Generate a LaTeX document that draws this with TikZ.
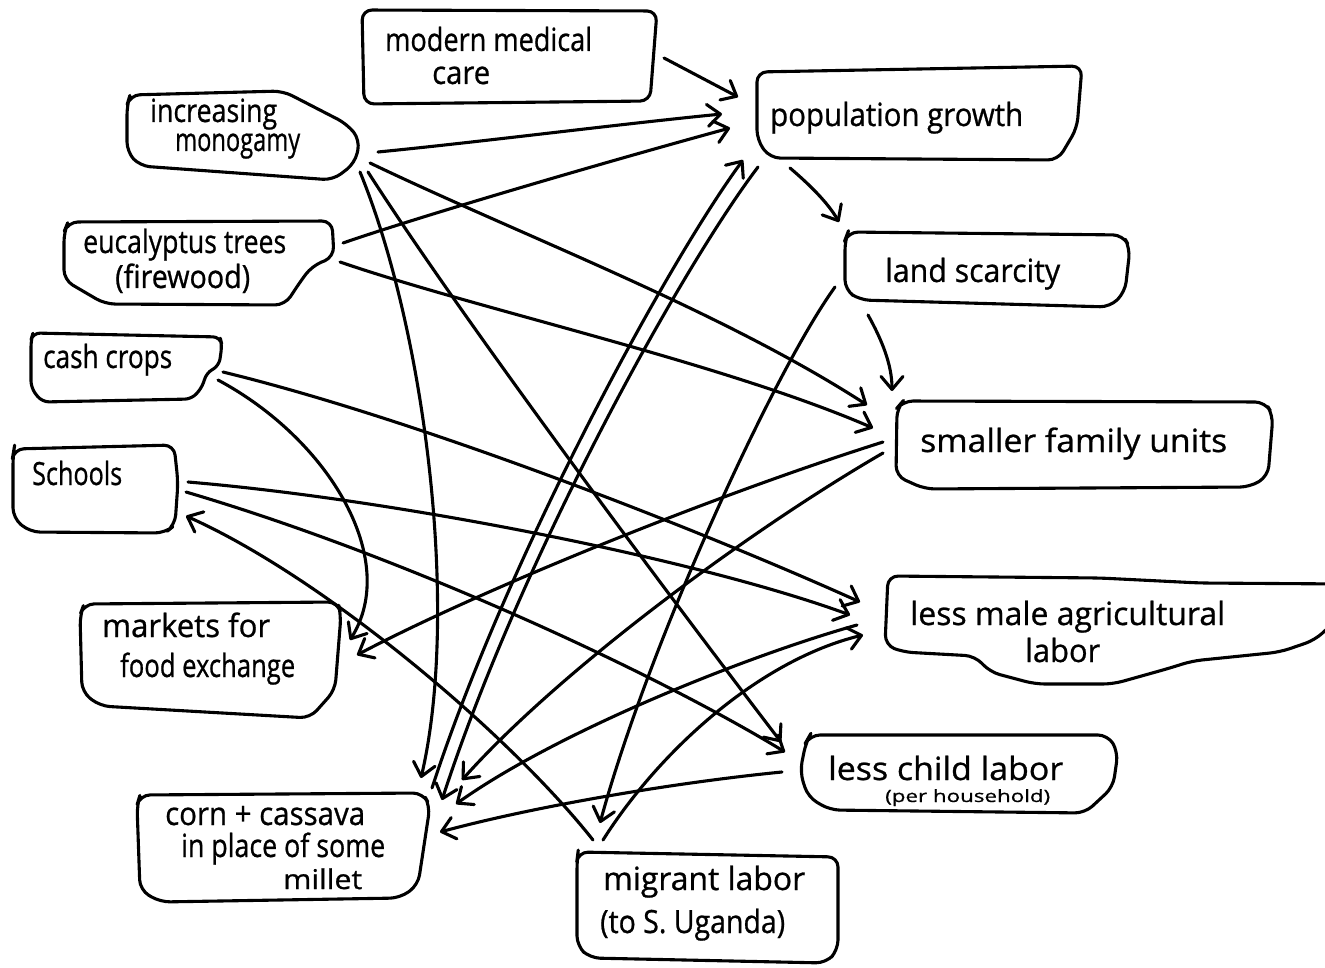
\documentclass[tikz,border=0pt]{standalone}
\usepackage{fontspec}
\setmainfont{Open Sans}
\newfontfamily\handfont{Open Sans}[FakeBold=0.8]
\usepackage{graphicx}
\usetikzlibrary{arrows.meta}
% stretch or squeeze one line of text to a given width, keeping its height
\newcommand\fitto[2]{\resizebox{#1pt}{\height}{#2}}
\begin{document}
\begin{tikzpicture}[x=1pt,y=-1pt,
  ink/.style={line width=3.1pt, line cap=round, line join=round},
  boxline/.style={ink, rounded corners=10pt},
  lbl/.style={inner sep=0pt, anchor=base west, font=\handfont\fontsize{32}{38}\selectfont},
  small/.style={lbl, font=\handfont\fontsize{17}{20}\selectfont},
  link/.style={ink, -{Straight Barb[round,length=13pt,width=22pt]}}
]
\useasboundingbox (0,0) rectangle (1325,968);
\fill[white] (0,0) rectangle (1325,968);
\clip (0,0) rectangle (1325,968);

% ---------- box outlines ----------
\draw[boxline] (362,10) -- (657,11) -- (650,101) -- (364,104) -- cycle;
\draw[boxline] (757,72) -- (1082,66) -- (1077,128) -- (1058,160) -- (770,158) -- (757,140) -- cycle;
\draw[boxline] (130,95) -- (283,91) -- (347,124) -- (360,140) -- (355,163) -- (333,180) -- (140,166) -- (127,152) -- (127,105) -- cycle;
\draw[boxline] (68,222) -- (332,221) -- (334,257) -- (312,266) -- (300,282) -- (285,305) -- (105,304) -- (64,280) -- (64,232) -- cycle;
\draw[boxline, rounded corners=7pt] (33,333) -- (220,337) -- (222,345) -- (219,366) -- (206,373) -- (203,386) -- (192,399) -- (42,402) -- (31,388) -- (31,340) -- cycle;
\draw[boxline] (14,449) -- (174,445) -- (178,482) -- (175,525) -- (165,533) -- (30,532) -- (13,518) -- (13,455) -- cycle;
\draw[boxline] (84,604) -- (338,602) -- (341,615) -- (335,690) -- (310,718) -- (100,706) -- (82,692) -- (80,615) -- cycle;
\draw[boxline] (140,795) -- (423,793) -- (430,806) -- (418,885) -- (400,898) -- (160,902) -- (140,890) -- (137,805) -- cycle;
\draw[boxline] (578,852) -- (838,857) -- (838,950) -- (826,963) -- (590,958) -- (577,946) -- (577,860) -- cycle;
\draw[boxline] (810,735) -- (1108,735) -- (1118,752) -- (1113,787) -- (1085,813) -- (830,810) -- (808,797) -- (800,772) -- (806,742) -- cycle;
\draw[boxline] (1345,584) -- (1200,583) -- (1100,578) -- (888,576) -- (885,645) -- (903,652) -- (975,656) -- (990,672) -- (1035,684) -- (1113,684) -- (1170,668) -- (1192,661) -- (1280,652) -- (1315,640) -- (1345,612);
\draw[boxline] (903,401) -- (1265,402) -- (1273,415) -- (1268,476) -- (1250,487) -- (925,489) -- (896,476) -- (897,408) -- cycle;
\draw[boxline] (848,232) -- (1123,235) -- (1130,248) -- (1125,292) -- (1110,307) -- (860,300) -- (845,290) -- (845,240) -- cycle;

% ---------- labels ----------
\node[lbl] (med)   at (385,51)  {\fitto{207}{modern medical}};
\node[lbl] (med2)  at (432,84)  {\fitto{58}{care}};
\node[lbl] (pop)   at (770,126) {\fitto{253}{population growth}};
\node[lbl] (mono)  at (150,122) {\fitto{127}{increasing}};
\node[lbl] (mono2) at (175,151) {\fitto{125}{monogamy}};
\node[lbl] (euc)   at (83,253)  {\fitto{203}{eucalyptus trees}};
\node[lbl] (euc2)  at (115,288) {\fitto{135}{(firewood)}};
\node[lbl] (cash)  at (43,368)  {\fitto{129}{cash crops}};
\node[lbl] (sch)   at (32,485)  {\fitto{90}{Schools}};
\node[lbl] (mkt)   at (102,637) {\fitto{168}{markets for}};
\node[lbl] (mkt2)  at (120,677) {\fitto{175}{food exchange}};
\node[lbl] (corn)  at (165,825) {\fitto{200}{corn + cassava}};
\node[lbl] (corn2) at (181,857) {\fitto{204}{in place of some}};
\node[lbl] (corn3) at (283,889) {\resizebox{79pt}{0.85\height}{millet}};
\node[lbl] (mig)   at (603,890) {\fitto{202}{migrant labor}};
\node[lbl] (mig2)  at (600,933) {\fitto{185}{(to S. Uganda)}};
\node[lbl] (lcl)   at (828,780) {\fitto{235}{less child labor}};
\node[small] (lcl2) at (885,802) {\fitto{165}{(per household)}};
\node[lbl] (lmal)  at (910,625) {\fitto{315}{less male agricultural}};
\node[lbl] (lmal2) at (1025,662) {\fitto{75}{labor}};
\node[lbl] (sfu)   at (920,452) {\fitto{307}{smaller family units}};
\node[lbl] (land)  at (885,282) {\fitto{175}{land scarcity}};

% ---------- connectors ----------
% into population growth
\draw[link] ([shift={(279,7)}]med.base west) -- ([shift={(-32,-29)}]pop.base west);
\draw[link] ([shift={(228,30)}]mono.base west) .. controls (480,142) and (620,124) .. ([shift={(-48,-12)}]pop.base west);
\draw[link] ([shift={(260,-10)}]euc.base west) .. controls (430,213) and (620,158) .. ([shift={(-40,2)}]pop.base west);
\draw[link] ([shift={(267,-37)}]corn.base west) .. controls (508,555) and (668,262) .. ([shift={(-27,34)}]pop.base west);
% out of population growth
\draw[link] ([shift={(-12,41)}]pop.base west) .. controls (680,270) and (520,560) .. ([shift={(277,-25)}]corn.base west);
\draw[link] ([shift={(20,42)}]pop.base west) .. controls (810,185) and (828,203) .. ([shift={(-46,-60)}]land.base west);
% out of land scarcity
\draw[link] ([shift={(-17,33)}]land.base west) .. controls (882,340) and (892,365) .. ([shift={(-28,-61)}]sfu.base west);
\draw[link] ([shift={(-50,5)}]land.base west) .. controls (775,370) and (650,640) .. ([shift={(-3,-67)}]mig.base west);
% out of increasing monogamy
\draw[link] ([shift={(220,41)}]mono.base west) .. controls (520,235) and (720,310) .. ([shift={(-53,-47)}]sfu.base west);
\draw[link] ([shift={(210,50)}]mono.base west) .. controls (425,330) and (460,610) .. ([shift={(256,-47)}]corn.base west);
\draw[link] ([shift={(218,50)}]mono.base west) .. controls (468,328) and (683,614) .. ([shift={(-47,-38)}]lcl.base west);
% out of eucalyptus trees
\draw[link] ([shift={(257,9)}]euc.base west) .. controls (480,310) and (720,362) .. ([shift={(-47,-24)}]sfu.base west);
% out of cash crops
\draw[link] ([shift={(175,12)}]cash.base west) .. controls (330,440) and (400,560) .. ([shift={(248,3)}]mkt.base west);
\draw[link] ([shift={(180,4)}]cash.base west) .. controls (420,420) and (700,530) .. ([shift={(-50,-23)}]lmal.base west);
% out of schools
\draw[link] ([shift={(156,-3)}]sch.base west) .. controls (400,500) and (700,560) .. ([shift={(-60,-10)}]lmal.base west);
\draw[link] ([shift={(154,7)}]sch.base west) .. controls (400,555) and (650,670) .. ([shift={(-43,-28)}]lcl.base west);
% out of migrant labor
\draw[link] ([shift={(-10,-50)}]mig.base west) .. controls (510,735) and (325,578) .. ([shift={(154,31)}]sch.base west);
\draw[link] ([shift={(0,-50)}]mig.base west) .. controls (660,750) and (760,660) .. ([shift={(-47,10)}]lmal.base west);
% out of smaller family units
\draw[link] ([shift={(-37,-10)}]sfu.base west) .. controls (700,500) and (470,595) .. ([shift={(255,18)}]mkt.base west);
\draw[link] ([shift={(-37,1)}]sfu.base west) .. controls (750,530) and (560,670) .. ([shift={(297,-45)}]corn.base west);
% into corn + cassava from the labour boxes
\draw[link] ([shift={(-53,0)}]lmal.base west) .. controls (750,655) and (560,730) .. ([shift={(291,-21)}]corn.base west);
\draw[link] ([shift={(-46,-8)}]lcl.base west) .. controls (680,782) and (540,805) .. ([shift={(275,7)}]corn.base west);
\end{tikzpicture}
\end{document}
